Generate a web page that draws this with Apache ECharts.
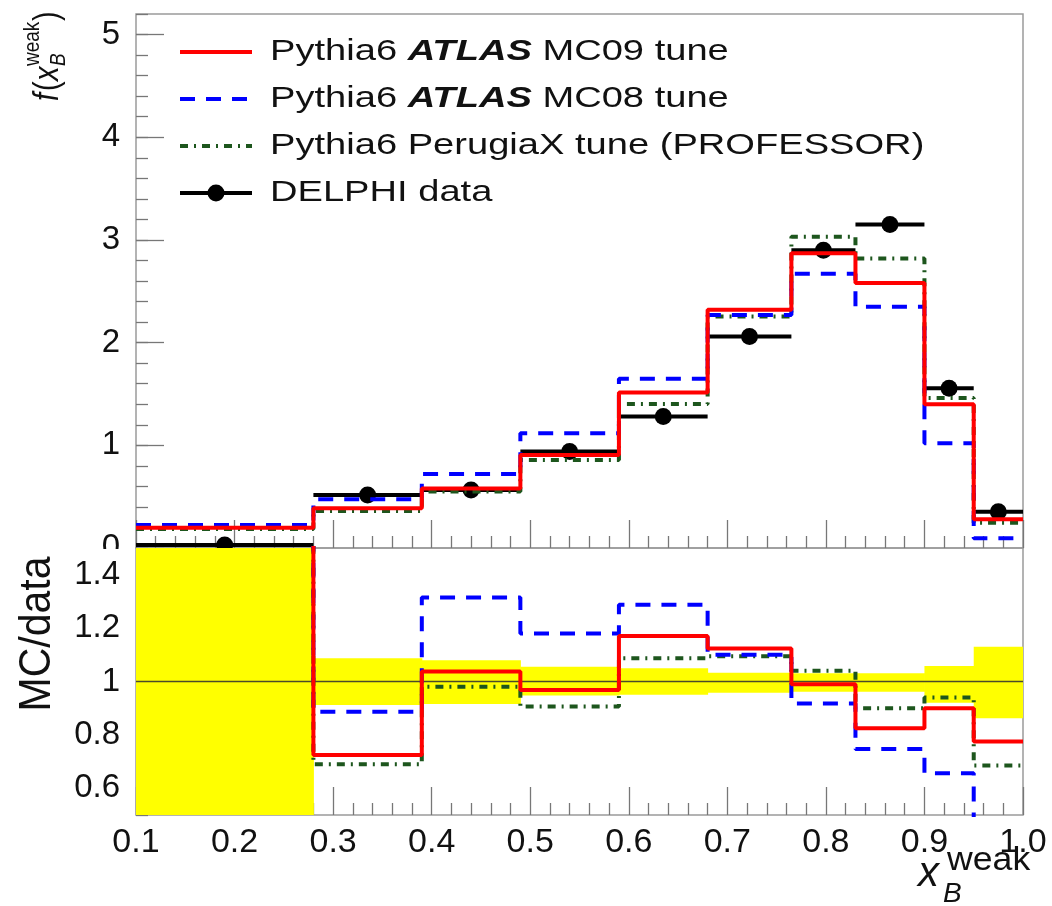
<!DOCTYPE html>
<html><head><meta charset="utf-8">
<script src="https://cdn.jsdelivr.net/npm/echarts@6/dist/echarts.min.js"></script>
<style>html,body{margin:0;padding:0;background:#fff}#c{width:1052px;height:906px}</style>
</head><body><div id="c"></div>
<script>
// ---- data ----
const binEdges = [0.1, 0.28, 0.39, 0.49, 0.59, 0.68, 0.765, 0.83, 0.9, 0.95, 1.0];
const mc09 = [0.198, 0.387, 0.58, 0.906, 1.514, 2.32, 2.87, 2.58, 1.40, 0.28];
const mc08 = [0.224, 0.475, 0.72, 1.118, 1.647, 2.27, 2.67, 2.35, 1.02, 0.095];
const perugiaX = [0.185, 0.36, 0.55, 0.858, 1.403, 2.254, 3.03, 2.82, 1.46, 0.247];
const delphi = [0.03, 0.517, 0.565, 0.94, 1.28, 2.06, 2.90, 3.15, 1.556, 0.354];
const ratioMc09 = [6.6, 0.725, 1.037, 0.968, 1.17, 1.124, 0.99, 0.825, 0.90, 0.775];
const ratioMc08 = [7.5, 0.887, 1.315, 1.18, 1.287, 1.10, 0.918, 0.747, 0.656, 0.27];
const ratioPerugiaX = [6.2, 0.69, 0.98, 0.906, 1.087, 1.095, 1.04, 0.90, 0.94, 0.685];
const dataBandLow = [0.0, 0.912, 0.916, 0.948, 0.95, 0.958, 0.962, 0.962, 0.92, 0.862];
const dataBandHigh = [2.0, 1.087, 1.08, 1.055, 1.05, 1.033, 1.031, 1.031, 1.058, 1.13];
const ratioTickValues = [0.6, 0.8, 1, 1.2, 1.4];
const seriesNames = ['Pythia6 ATLAS MC09 tune', 'Pythia6 ATLAS MC08 tune', 'Pythia6 PerugiaX tune (PROFESSOR)', 'DELPHI data'];

// ---- helpers ----
const FONT = 'Liberation Sans, Arial, Helvetica, sans-serif';
const TXT = '#111';
const FRAME = '#9a9a9a';
const TICK = '#777';
const RED = '#ff0000', BLUE = '#0000ff', GREEN = '#1d561d';

function stepData(values) {
  const n = values.length;
  const d = values.map((v, i) => [binEdges[i], v]);
  d.push([binEdges[n], values[n - 1]]);
  return d;
}
function histLine(name, values, color, dash, xi, yi) {
  return {
    name, type: 'line', step: 'end', xAxisIndex: xi, yAxisIndex: yi,
    data: stepData(values), symbol: 'none', clip: true, silent: true,
    lineStyle: { color, width: 4, type: dash || 'solid', cap: 'butt' }
  };
}
function xAxisCfg(grid, showLabels) {
  return {
    type: 'value', gridIndex: grid, min: 0.1, max: 1.0, interval: 0.1,
    axisLine: { show: false }, splitLine: { show: false },
    axisTick: { show: true, inside: true, length: 28, lineStyle: { color: TICK, width: 1.3 } },
    minorTick: { show: true, splitNumber: 5, length: 12, lineStyle: { color: TICK, width: 1.3 } },
    axisLabel: {
      show: showLabels, fontFamily: FONT, fontSize: 34, color: TXT, margin: 11,
      formatter: v => v.toFixed(1)
    }
  };
}
const noLabel = { show: false };

const option = {
  animation: false,
  backgroundColor: '#fff',
  grid: [
    { left: 136, right: 29, top: 14, height: 534, show: true, borderColor: FRAME, borderWidth: 1.5, backgroundColor: 'transparent' },
    { left: 136, right: 29, top: 548, height: 267, show: true, borderColor: FRAME, borderWidth: 1.5, backgroundColor: 'transparent' }
  ],
  xAxis: [xAxisCfg(0, false), xAxisCfg(1, true)],
  yAxis: [
    { // top panel: major ticks + labels
      type: 'value', gridIndex: 0, position: 'left', min: 0, max: 5.2, interval: 1,
      axisLine: { show: false }, splitLine: { show: false },
      axisTick: { show: true, inside: true, length: 28, lineStyle: { color: TICK, width: 1.3 } },
      axisLabel: { fontFamily: FONT, fontSize: 33, color: TXT, margin: 16, showMaxLabel: false }
    },
    { // top panel: minor ticks
      type: 'value', gridIndex: 0, position: 'left', min: 0, max: 5.2, interval: 0.2,
      axisLine: { show: false }, splitLine: { show: false },
      axisTick: { show: true, inside: true, length: 12, lineStyle: { color: TICK, width: 1.3 } },
      axisLabel: noLabel
    },
    { // ratio panel: minor ticks + labels
      type: 'value', gridIndex: 1, position: 'left', min: 0.5, max: 1.5, interval: 0.05,
      axisLine: { show: false }, splitLine: { show: false },
      axisTick: { show: true, inside: true, length: 12, lineStyle: { color: TICK, width: 1.3 } },
      axisLabel: { fontFamily: FONT, fontSize: 33, color: TXT, margin: 16, customValues: ratioTickValues }
    },
    { // ratio panel: major ticks
      type: 'value', gridIndex: 1, position: 'left', min: 0.5, max: 1.5, interval: 0.05,
      axisLine: { show: false }, splitLine: { show: false },
      axisTick: { show: true, inside: true, length: 28, customValues: ratioTickValues, lineStyle: { color: TICK, width: 1.3 } },
      axisLabel: noLabel
    }
  ],
  series: [
    histLine(seriesNames[2], perugiaX, GREEN, [8, 6, 2, 6], 0, 0),
    histLine(seriesNames[1], mc08, BLUE, [15, 11], 0, 0),
    histLine(seriesNames[0], mc09, RED, null, 0, 0),
    {
      name: seriesNames[3], type: 'custom', xAxisIndex: 0, yAxisIndex: 0, silent: true,
      encode: { x: [0, 1, 2], y: 3 },
      data: delphi.map((v, i) => [binEdges[i], binEdges[i + 1], (binEdges[i] + binEdges[i + 1]) / 2, v]),
      renderItem: (params, api) => {
        const y = api.value(3);
        const a = api.coord([api.value(0), y]);
        const b = api.coord([api.value(1), y]);
        const c = api.coord([api.value(2), y]);
        return {
          type: 'group', children: [
            { type: 'line', shape: { x1: a[0], y1: a[1], x2: b[0], y2: b[1] }, style: { stroke: '#000', lineWidth: 4 } },
            { type: 'circle', shape: { cx: c[0], cy: c[1], r: 8.5 }, style: { fill: '#000' } }
          ]
        };
      }
    },
    {
      name: 'data uncertainty', type: 'custom', xAxisIndex: 1, yAxisIndex: 2, silent: true,
      encode: { x: [0, 1], y: [2, 3] },
      data: dataBandLow.map((lo, i) => [binEdges[i], binEdges[i + 1], lo, dataBandHigh[i]]),
      renderItem: (params, api) => {
        const p = api.coord([api.value(0), api.value(3)]);
        const q = api.coord([api.value(1), api.value(2)]);
        const cs = params.coordSys;
        const shape = echarts.graphic.clipRectByRect(
          { x: p[0], y: p[1], width: q[0] - p[0] + 0.5, height: q[1] - p[1] },
          { x: cs.x, y: cs.y, width: cs.width, height: cs.height });
        return shape && { type: 'rect', shape, style: { fill: '#ffff00' } };
      }
    },
    {
      name: 'unity', type: 'line', xAxisIndex: 1, yAxisIndex: 2, silent: true, symbol: 'none',
      data: [[binEdges[0], 1], [binEdges[binEdges.length - 1], 1]],
      lineStyle: { color: '#4a4a2a', width: 1.5 }
    },
    histLine(seriesNames[2] + ' ratio', ratioPerugiaX, GREEN, [8, 6, 2, 6], 1, 2),
    histLine(seriesNames[1] + ' ratio', ratioMc08, BLUE, [15, 11], 1, 2),
    histLine(seriesNames[0] + ' ratio', ratioMc09, RED, null, 1, 2)
  ],
  graphic: []
};

// ---- legend (drawn as graphic elements) ----
const legRows = [52, 99, 146, 193];
const legStyles = [
  { stroke: RED, dash: null },
  { stroke: BLUE, dash: [15, 11] },
  { stroke: GREEN, dash: [8, 6, 2, 6] },
  { stroke: '#000', dash: null }
];
const legTexts = [
  'Pythia6 {b|ATLAS} MC09 tune',
  'Pythia6 {b|ATLAS} MC08 tune',
  'Pythia6 PerugiaX tune (PROFESSOR)',
  'DELPHI data'
];
const richB = { b: { fontFamily: FONT, fontSize: 30, fontWeight: 'bold', fontStyle: 'italic', fill: TXT } };
legRows.forEach((y, i) => {
  option.graphic.push({
    type: 'line', shape: { x1: 180, y1: y, x2: 252, y2: y },
    style: { stroke: legStyles[i].stroke, lineWidth: 4, lineDash: legStyles[i].dash }
  });
  option.graphic.push({
    type: 'text', x: 270, y: y, scaleX: 1.27,
    style: { text: legTexts[i], rich: richB, fontFamily: FONT, fontSize: 30, fill: TXT, verticalAlign: 'middle', align: 'left' }
  });
});
option.graphic.push({ type: 'circle', shape: { cx: 216, cy: legRows[3], r: 8.5 }, style: { fill: '#000' } });

// ---- axis titles ----
option.graphic.push({
  type: 'group', x: 48, y: 101, rotation: Math.PI / 2, scaleY: 1.2,
  children: [
    { type: 'text', x: 0, y: 0, style: { text: 'f', fontFamily: FONT, fontSize: 29, fontStyle: 'italic', fill: TXT, verticalAlign: 'middle' } },
    { type: 'text', x: 10, y: 0, style: { text: '(', fontFamily: FONT, fontSize: 29, fill: TXT, verticalAlign: 'middle' } },
    { type: 'text', x: 20, y: 0, style: { text: 'x', fontFamily: FONT, fontSize: 29, fontStyle: 'italic', fill: TXT, verticalAlign: 'middle' } },
    { type: 'text', x: 35, y: -13, style: { text: 'weak', fontFamily: FONT, fontSize: 19, fill: TXT, verticalAlign: 'middle' } },
    { type: 'text', x: 35, y: 9, style: { text: 'B', fontFamily: FONT, fontSize: 19, fontStyle: 'italic', fill: TXT, verticalAlign: 'middle' } },
    { type: 'text', x: 80, y: 0, style: { text: ')', fontFamily: FONT, fontSize: 29, fill: TXT, verticalAlign: 'middle' } }
  ]
});
option.graphic.push({
  type: 'text', x: 38, y: 634, rotation: Math.PI / 2, scaleY: 1.1,
  style: { text: 'MC/data', fontFamily: FONT, fontSize: 41, fill: TXT, verticalAlign: 'middle', align: 'center' }
});
option.graphic.push({ type: 'text', x: 918, y: 874, style: { text: 'x', fontFamily: FONT, fontSize: 42, fontStyle: 'italic', fill: TXT, verticalAlign: 'middle' } });
option.graphic.push({ type: 'text', x: 947, y: 861, scaleX: 1.08, style: { text: 'weak', fontFamily: FONT, fontSize: 33, fill: TXT, verticalAlign: 'middle' } });
option.graphic.push({ type: 'text', x: 943, y: 894, style: { text: 'B', fontFamily: FONT, fontSize: 28, fontStyle: 'italic', fill: TXT, verticalAlign: 'middle' } });
// lower pad covers the lower half of the top panel's "0" label, as in the original
option.graphic.push({ type: 'rect', z: 100, shape: { x: 60, y: 549, width: 74, height: 12 }, style: { fill: '#fff' } });

const chart = echarts.init(document.getElementById('c'), null, { renderer: 'canvas' });
chart.setOption(option);
</script></body></html>
